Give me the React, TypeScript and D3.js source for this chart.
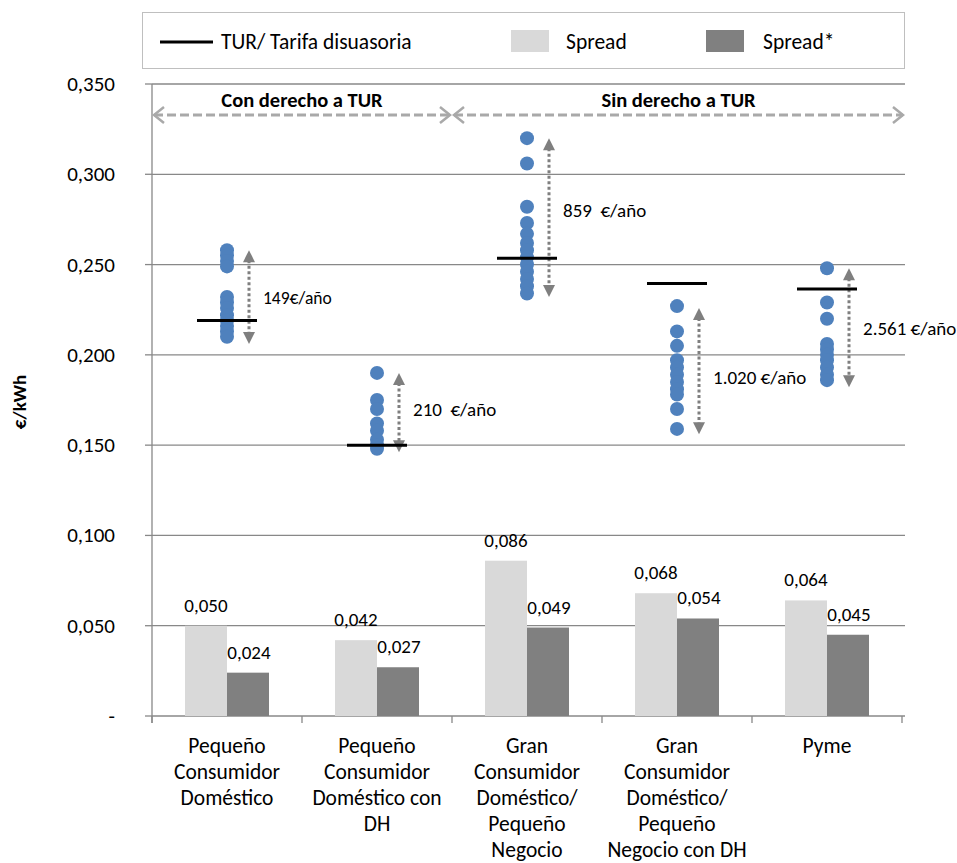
import React from "react";
import * as d3 from "d3";

const categories = [
  ["Pequeño", "Consumidor", "Doméstico"],
  ["Pequeño", "Consumidor", "Doméstico con", "DH"],
  ["Gran", "Consumidor", "Doméstico/", "Pequeño", "Negocio"],
  ["Gran", "Consumidor", "Doméstico/", "Pequeño", "Negocio con DH"],
  ["Pyme"],
];
const catKeys = ["c1", "c2", "c3", "c4", "c5"];
const spread = [0.05, 0.042, 0.086, 0.068, 0.064];
const spreadStar = [0.024, 0.027, 0.049, 0.054, 0.045];
const tur = [0.219, 0.15, 0.2535, 0.2395, 0.2365];
const offers = [
  [0.258, 0.255, 0.252, 0.249, 0.232, 0.229, 0.226, 0.222, 0.219, 0.216, 0.213, 0.21],
  [0.19, 0.175, 0.17, 0.162, 0.158, 0.153, 0.15, 0.148],
  [0.32, 0.306, 0.282, 0.273, 0.267, 0.262, 0.258, 0.254, 0.25, 0.246, 0.242, 0.238, 0.234],
  [0.227, 0.213, 0.205, 0.197, 0.193, 0.189, 0.185, 0.181, 0.178, 0.17, 0.159],
  [0.248, 0.229, 0.22, 0.206, 0.203, 0.2, 0.197, 0.193, 0.189, 0.186],
];
const arrowRange = [
  [0.258, 0.206],
  [0.19, 0.146],
  [0.32, 0.232],
  [0.226, 0.156],
  [0.248, 0.182],
];
const savingLabels = ["149€/año", "210  €/año", "859  €/año", "1.020 €/año", "2.561 €/año"];
const savingLabelY = [0.232, 0.17, 0.28, 0.188, 0.215];
const yTicks = [0, 0.05, 0.1, 0.15, 0.2, 0.25, 0.3, 0.35];
const groups = [
  { label: "Con derecho a TUR", from: 0, to: 2 },
  { label: "Sin derecho a TUR", from: 2, to: 5 },
];

const FONT = "Carlito, Calibri, Lato, 'Liberation Sans', sans-serif";
const W = 957;
const H = 863;
const left = 152;
const right = 902;
const top = 84;
const bottom = 716;

export default function App() {
  const y = d3.scaleLinear().domain([0, 0.35]).range([bottom, top]);
  const x = d3.scaleBand().domain(catKeys).range([left, right]).padding(0);
  const bw = x.bandwidth();
  const inner = d3
    .scaleBand()
    .domain(["s", "s*"])
    .range([bw * 0.22, bw * 0.78])
    .padding(0);
  const loc = d3.formatLocale({ decimal: ",", thousands: ".", grouping: [3], currency: ["", "€"] });
  const fmt = loc.format(".3f");
  const tickFmt = (v: number) => (v === 0 ? "-" : fmt(v));
  const gridColor = "#888888";
  const dotColor = "#4F81BD";
  const arrowColor = "#7F7F7F";
  const groupColor = "#A9A9A9";
  const ax = 22; // arrow offset from category centre

  const boundaries = d3.range(catKeys.length + 1).map((i) => left + i * bw);

  return (
    <svg width={W} height={H} style={{ position: "absolute", left: 0, top: 0, fontFamily: FONT }}>
      <rect x={0} y={0} width={W} height={H} fill="#fff" />
      {/* legend */}
      <rect x={142.5} y={12.5} width={762} height={56} fill="#fff" stroke="#BFBFBF" />
      <line x1={160} x2={213} y1={42} y2={42} stroke="#000" strokeWidth={3} />
      <text x={221} y={49} fontSize={21.5} fill="#000">TUR/ Tarifa disuasoria</text>
      <rect x={511} y={30} width={38} height={22} fill="#D9D9D9" />
      <text x={566} y={49} fontSize={21.5} fill="#000">Spread</text>
      <rect x={706} y={30} width={38} height={22} fill="#808080" />
      <text x={763} y={49} fontSize={21.5} fill="#000">Spread*</text>

      {/* gridlines */}
      {yTicks.map((t) => (
        <g key={t}>
          {t > 0 && (
            <line x1={left} x2={905} y1={y(t)} y2={y(t)} stroke={gridColor} strokeWidth={1.3} />
          )}
          <line x1={145} x2={left} y1={y(t)} y2={y(t)} stroke={gridColor} strokeWidth={1.3} />
          <text x={115} y={y(t) + 7} fontSize={21} textAnchor="end" fill="#000">
            {tickFmt(t)}
          </text>
        </g>
      ))}
      <line x1={left} x2={left} y1={top} y2={bottom + 7} stroke={gridColor} strokeWidth={1.3} />
      <line x1={left} x2={905} y1={bottom} y2={bottom} stroke={gridColor} strokeWidth={1.3} />
      {boundaries.map((b, i) => (
        <line key={i} x1={b} x2={b} y1={bottom} y2={bottom + 7} stroke={gridColor} strokeWidth={1.3} />
      ))}
      <text
        transform={`translate(26,${(top + bottom) / 2 + 2}) rotate(-90)`}
        fontSize={19}
        fontWeight="bold"
        textAnchor="middle"
      >
        €/kWh
      </text>

      {/* bars */}
      {catKeys.map((k, i) => {
        const x0 = x(k)!;
        const xs = x0 + inner("s")!;
        const xd = x0 + inner("s*")!;
        const w = inner.bandwidth();
        return (
          <g key={k}>
            <rect x={xs} y={y(spread[i])} width={w} height={bottom - y(spread[i])} fill="#D9D9D9" />
            <rect x={xd} y={y(spreadStar[i])} width={w} height={bottom - y(spreadStar[i])} fill="#808080" />
            <text x={xs + w / 2} y={y(spread[i]) - 14} fontSize={19} textAnchor="middle">
              {fmt(spread[i])}
            </text>
            <text x={xd + w / 2 + 1} y={y(spreadStar[i]) - 14} fontSize={19} textAnchor="middle">
              {fmt(spreadStar[i])}
            </text>
          </g>
        );
      })}

      {/* group arrows */}
      {groups.map((g, i) => {
        const x1 = left + g.from * bw;
        const x2 = g.to === 5 ? 905 : left + g.to * bw;
        const yy = 115;
        return (
          <g key={i}>
            <line x1={x1 + 2} x2={x2 - 2} y1={yy} y2={yy} stroke={groupColor} strokeWidth={3} strokeDasharray="9,4" />
            <polyline
              points={`${x1 + 12},${yy - 8} ${x1 + 2},${yy} ${x1 + 12},${yy + 8}`}
              fill="none"
              stroke={groupColor}
              strokeWidth={2.5}
            />
            <polyline
              points={`${x2 - 12},${yy - 8} ${x2 - 2},${yy} ${x2 - 12},${yy + 8}`}
              fill="none"
              stroke={groupColor}
              strokeWidth={2.5}
            />
            <text x={(x1 + x2) / 2} y={107} fontSize={20.5} fontWeight="bold" textAnchor="middle">
              {g.label}
            </text>
          </g>
        );
      })}

      {/* dots, TUR lines, saving arrows */}
      {catKeys.map((k, i) => {
        const cx = x(k)! + bw / 2;
        const a0 = y(arrowRange[i][0]);
        const a1 = y(arrowRange[i][1]);
        const axx = cx + ax;
        return (
          <g key={k}>
            <line x1={axx} x2={axx} y1={a0 + 10} y2={a1 - 10} stroke={arrowColor} strokeWidth={3} strokeDasharray="3,2.5" />
            <polygon points={`${axx},${a0} ${axx - 6},${a0 + 12} ${axx + 6},${a0 + 12}`} fill={arrowColor} />
            <polygon points={`${axx},${a1} ${axx - 6},${a1 - 12} ${axx + 6},${a1 - 12}`} fill={arrowColor} />
            {offers[i].map((v, j) => (
              <circle key={j} cx={cx} cy={y(v)} r={7} fill={dotColor} />
            ))}
            <line x1={cx - 30} x2={cx + 30} y1={y(tur[i])} y2={y(tur[i])} stroke="#000" strokeWidth={3} />
            <text
              x={axx + 14}
              y={y(savingLabelY[i]) + 7}
              fontSize={i === 0 ? 17.5 : 19}
              style={{ whiteSpace: "pre" }}
            >
              {savingLabels[i]}
            </text>
          </g>
        );
      })}

      {/* category labels */}
      {catKeys.map((k, i) => (
        <text key={k} x={x(k)! + bw / 2} fontSize={21.5} textAnchor="middle">
          {categories[i].map((line, j) => (
            <tspan key={j} x={x(k)! + bw / 2} y={753 + j * 26}>
              {line}
            </tspan>
          ))}
        </text>
      ))}
    </svg>
  );
}
